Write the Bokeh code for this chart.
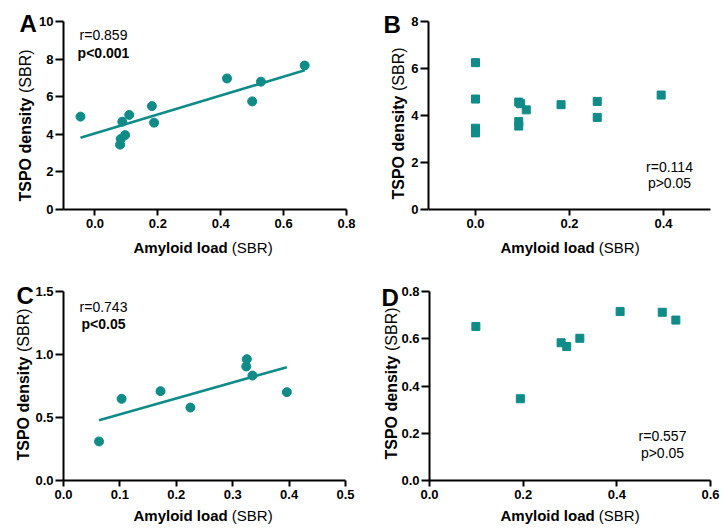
import numpy as np
from math import pi
from bokeh.plotting import figure
from bokeh.models import Label, FixedTicker, PrintfTickFormatter, Range1d, LinearAxis
from bokeh.layouts import gridplot
from bokeh.embed import file_html
from bokeh.resources import INLINE

# ---------------- data ----------------
# Panel A: amyloid load vs TSPO density (circles, with regression line)
a_x = [-0.046, 0.080, 0.082, 0.096, 0.087, 0.109, 0.181, 0.188, 0.420, 0.500, 0.528, 0.667]
a_y = [4.94, 3.45, 3.75, 3.96, 4.67, 5.03, 5.50, 4.62, 6.97, 5.75, 6.80, 7.66]
a_stats = ["r=0.859", "p<0.001"]

# Panel B: squares, no regression line
b_x = [0.0, 0.0, 0.0, 0.0, 0.092, 0.096, 0.108, 0.092, 0.092, 0.182, 0.259, 0.259, 0.395]
b_y = [6.25, 4.70, 3.46, 3.26, 4.57, 4.50, 4.24, 3.74, 3.55, 4.46, 4.60, 3.92, 4.87]
b_stats = ["r=0.114", "p>0.05"]

# Panel C: circles, with regression line
c_x = [0.063, 0.103, 0.172, 0.225, 0.325, 0.324, 0.335, 0.396]
c_y = [0.31, 0.648, 0.709, 0.579, 0.963, 0.905, 0.833, 0.701]
c_stats = ["r=0.743", "p<0.05"]

# Panel D: squares, no regression line
d_x = [0.099, 0.194, 0.281, 0.293, 0.321, 0.407, 0.497, 0.526]
d_y = [0.652, 0.346, 0.583, 0.567, 0.602, 0.715, 0.712, 0.679]
d_stats = ["r=0.557", "p>0.05"]

a_xticks = [0.0, 0.2, 0.4, 0.6, 0.8]
a_yticks = [0, 2, 4, 6, 8, 10]
b_xticks = [0.0, 0.2, 0.4]
b_yticks = [0, 2, 4, 6, 8]
c_xticks = [0.0, 0.1, 0.2, 0.3, 0.4, 0.5]
c_yticks = [0.0, 0.5, 1.0, 1.5]
d_xticks = [0.0, 0.2, 0.4, 0.6]
d_yticks = [0.0, 0.2, 0.4, 0.6, 0.8]

x_title_bold = "Amyloid load "
x_title_norm = "(SBR)"
y_title_bold = "TSPO density "
y_title_norm = "(SBR)"

# ---------------- styling ----------------
FONT = "Liberation Sans"
TEAL = "#0f8b88"
TICK_PX = 13
XTITLE_PX = 15
YTITLE_PX = 16
STAT_PX = 14
LETTER_PX = 24

# approximate advance widths (Arial/Liberation metrics, em units)
X_BOLD_EM = 6.557
Y_BOLD_EM = 6.780
Y_TOTAL_EM = 6.780 + 2.722


def make_panel(xr, yr, xticks, yticks, xfmt, yfmt, fw, fh, ox, oy, L, R, T, B):
    """Figure whose frame fills the whole canvas; axes are pinned with
    fixed_location so that the titles/letters can live inside the frame."""
    kx = (R - L) / (xr[1] - xr[0])
    ky = (B - T) / (yr[1] - yr[0])
    x0 = xr[0] - (L - ox) / kx
    x1 = xr[1] + (ox + fw - R) / kx
    y0 = yr[0] - (oy + fh - B) / ky
    y1 = yr[1] + (T - oy) / ky
    p = figure(width=fw, height=fh, x_range=Range1d(x0, x1), y_range=Range1d(y0, y1),
               output_backend="svg", toolbar_location=None, title=None,
               x_axis_location=None, y_axis_location=None, min_border=0)
    p.outline_line_color = None
    p.xgrid.visible = False
    p.ygrid.visible = False
    p.background_fill_color = "white"
    p.border_fill_color = "white"
    xa = LinearAxis(fixed_location=yr[0], bounds=xr, ticker=FixedTicker(ticks=xticks),
                    formatter=PrintfTickFormatter(format=xfmt))
    ya = LinearAxis(fixed_location=xr[0], bounds=yr, ticker=FixedTicker(ticks=yticks),
                    formatter=PrintfTickFormatter(format=yfmt))
    for axis in (xa, ya):
        axis.axis_line_width = 2
        axis.axis_line_color = "black"
        axis.major_tick_line_width = 2
        axis.major_tick_line_color = "black"
        axis.major_tick_in = 0
        axis.minor_tick_out = 0
        axis.minor_tick_in = 0
        axis.major_label_text_font = FONT
        axis.major_label_text_font_size = f"{TICK_PX}px"
        axis.major_label_text_font_style = "bold"
        axis.major_label_text_color = "black"
    xa.major_tick_out = 6
    ya.major_tick_out = 8
    xa.major_label_standoff = 3
    ya.major_label_standoff = 2
    p.add_layout(xa, "below")
    p.add_layout(ya, "left")
    p._origin = (ox, oy + fh)
    return p


def txt(p, X, Y, s, size, bold=False, align="left", angle=0.0):
    """X, Y: page position of the text's left/centre edge and vertical middle."""
    ox, ob = p._origin
    p.add_layout(Label(x=X - ox, y=ob - Y, x_units="screen", y_units="screen", text=s,
                       text_font=FONT, text_font_size=f"{size}px",
                       text_font_style="bold" if bold else "normal",
                       text_align=align, text_baseline="middle", angle=angle,
                       text_color="black"))


def titles(p, letter, lx, lm, ycx, ycy, xtx, xtm):
    txt(p, lx, lm, letter, LETTER_PX, bold=True)
    y_bottom = ycy + Y_TOTAL_EM * YTITLE_PX / 2
    txt(p, ycx, y_bottom, y_title_bold, YTITLE_PX, bold=True, angle=pi / 2)
    txt(p, ycx, y_bottom - Y_BOLD_EM * YTITLE_PX, y_title_norm, YTITLE_PX, angle=pi / 2)
    txt(p, xtx, xtm, x_title_bold, XTITLE_PX, bold=True)
    txt(p, xtx + X_BOLD_EM * XTITLE_PX, xtm, x_title_norm, XTITLE_PX)


def fit_line(p, xs, ys):
    coef = np.polyfit(xs, ys, 1)
    lx = np.array([min(xs), max(xs)])
    p.line(lx, np.polyval(coef, lx), line_color=TEAL, line_width=2.6)


# ---------------- Panel A ----------------
pA = make_panel((-0.1, 0.8), (0, 10), a_xticks, a_yticks, "%.1f", "%d",
                360, 264, 0, 0, 63, 346, 21, 209)
fit_line(pA, a_x, a_y)
pA.scatter(a_x, a_y, marker="circle", size=9, fill_color=TEAL, line_color=TEAL)
titles(pA, "A", 19, 23, 25, 125, 133, 246.5)
txt(pA, 103, 34.5, a_stats[0], STAT_PX, align="center")
txt(pA, 103, 52.5, a_stats[1], STAT_PX, bold=True, align="center")

# ---------------- Panel B ----------------
pB = make_panel((-0.1, 0.5), (0, 8), b_xticks, b_yticks, "%.1f", "%d",
                361, 264, 360, 0, 428, 710, 21, 209)
pB.scatter(b_x, b_y, marker="square", size=8, fill_color=TEAL, line_color=TEAL)
titles(pB, "B", 383, 24, 398, 123, 500, 246.5)
txt(pB, 669, 166, b_stats[0], STAT_PX, align="center")
txt(pB, 669, 182.5, b_stats[1], STAT_PX, align="center")

# ---------------- Panel C ----------------
pC = make_panel((0, 0.5), (0, 1.5), c_xticks, c_yticks, "%.1f", "%.1f",
                360, 264, 0, 264, 63, 345, 291, 480)
fit_line(pC, c_x, c_y)
pC.scatter(c_x, c_y, marker="circle", size=9, fill_color=TEAL, line_color=TEAL)
titles(pC, "C", 16, 294.5, 23, 384, 133, 514.5)
txt(pC, 103, 306, c_stats[0], STAT_PX, align="center")
txt(pC, 103, 323, c_stats[1], STAT_PX, bold=True, align="center")

# ---------------- Panel D ----------------
pD = make_panel((0, 0.6), (0, 0.8), d_xticks, d_yticks, "%.1f", "%.1f",
                361, 264, 360, 264, 429, 710, 291, 480)
pD.scatter(d_x, d_y, marker="square", size=8, fill_color=TEAL, line_color=TEAL)
titles(pD, "D", 381, 296.5, 391, 383, 500, 514.5)
txt(pD, 662, 435, d_stats[0], STAT_PX, align="center")
txt(pD, 662, 452.5, d_stats[1], STAT_PX, align="center")

grid = gridplot([[pA, pB], [pC, pD]], toolbar_location=None)

with open("out.html", "w") as f:
    f.write(file_html(grid, INLINE))
